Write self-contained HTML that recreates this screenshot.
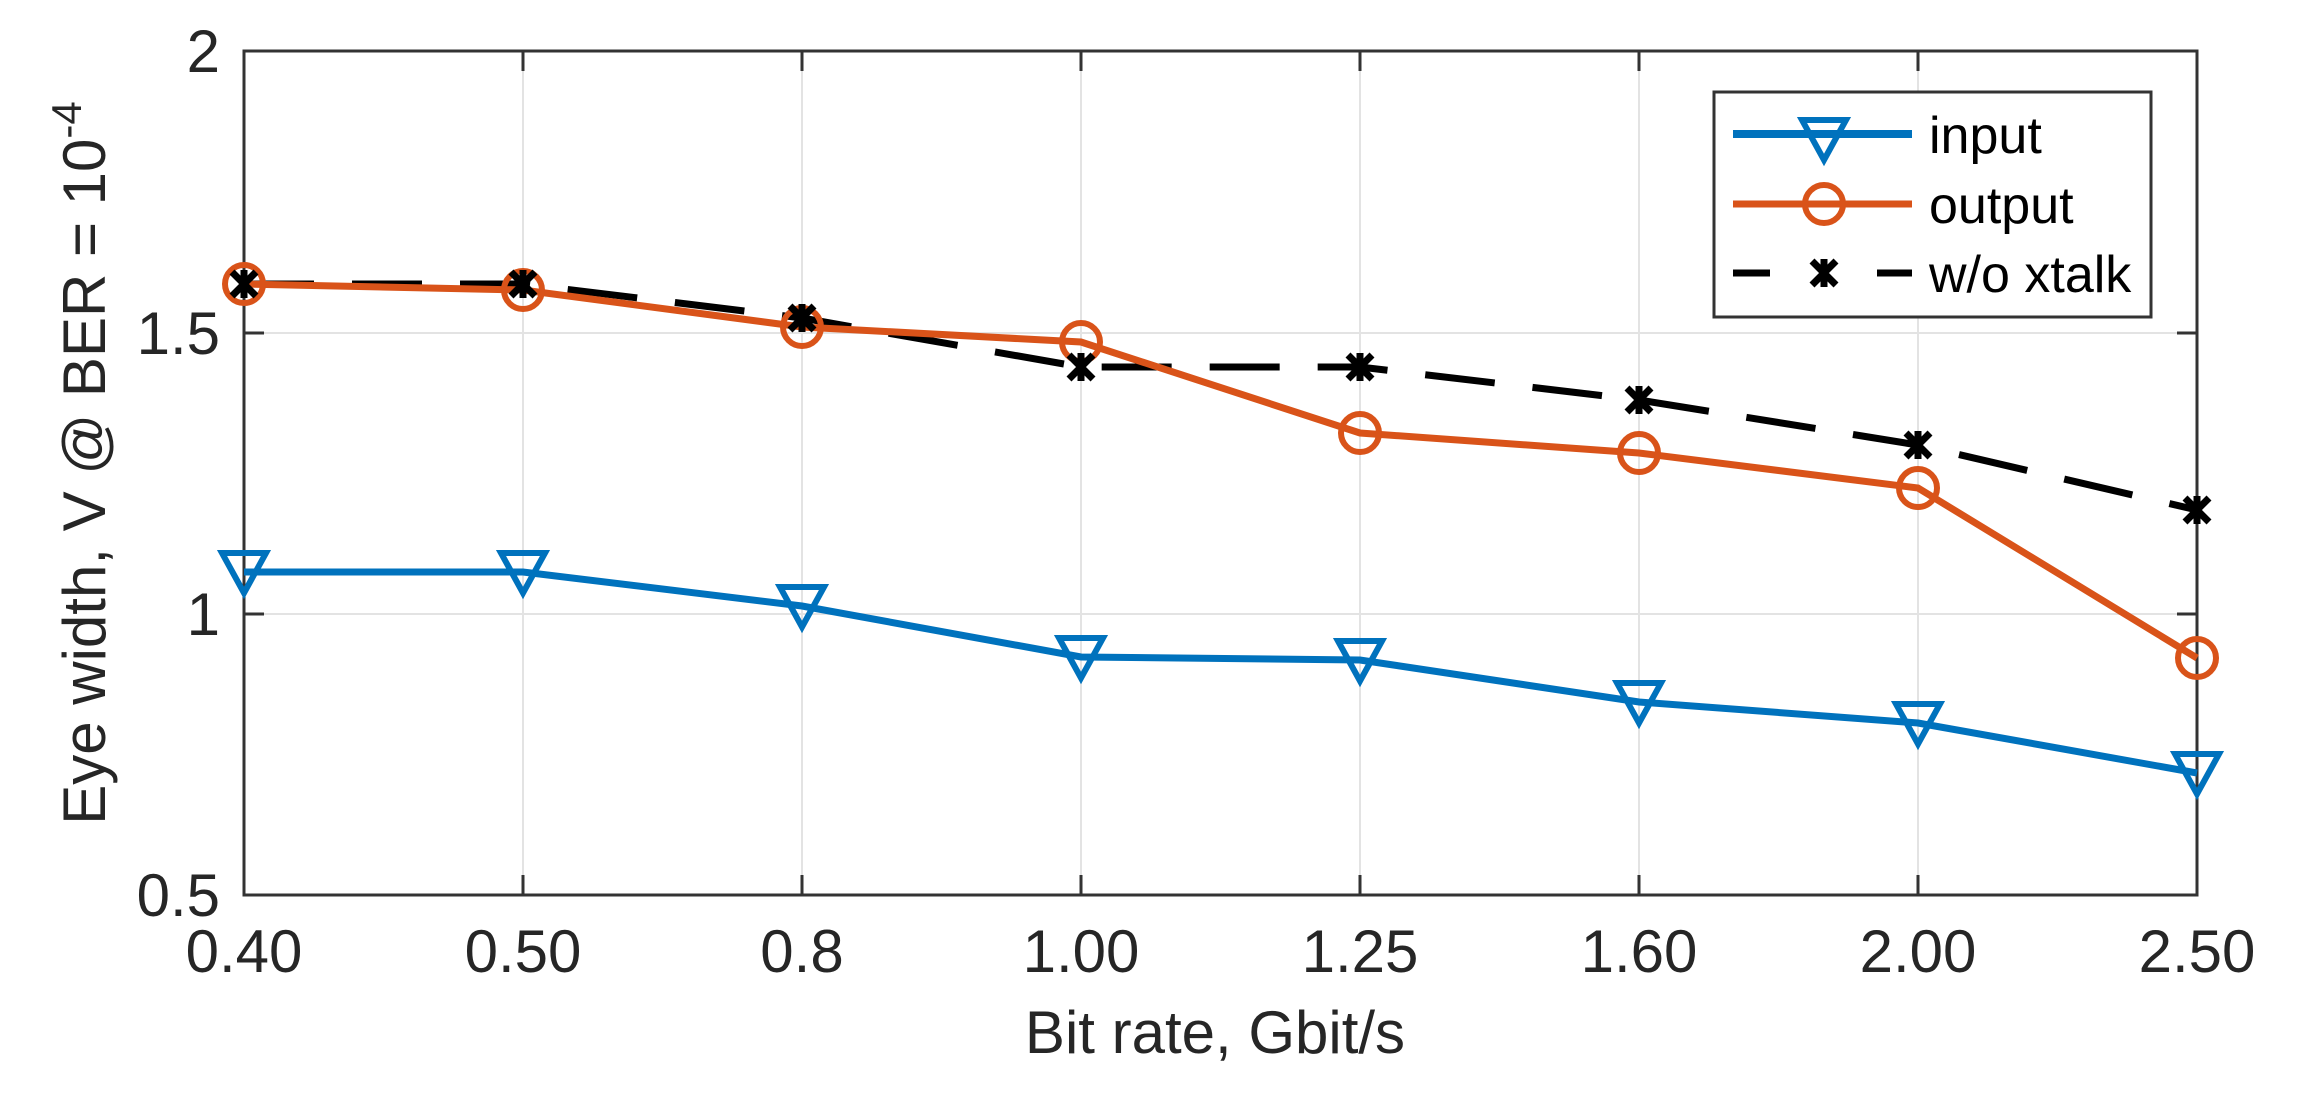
<!DOCTYPE html>
<html><head><meta charset="utf-8"><style>
html,body{margin:0;padding:0;background:#fff;}
svg{display:block;font-family:"Liberation Sans",Arial,sans-serif;}
</style></head><body>
<svg width="2310" height="1100" viewBox="0 0 2310 1100" xmlns="http://www.w3.org/2000/svg">
<rect width="2310" height="1100" fill="#fff"/>
<g stroke="#e3e3e3" stroke-width="2">
<line x1="523" y1="51" x2="523" y2="895"/><line x1="802" y1="51" x2="802" y2="895"/>
<line x1="1081" y1="51" x2="1081" y2="895"/><line x1="1360" y1="51" x2="1360" y2="895"/>
<line x1="1639" y1="51" x2="1639" y2="895"/><line x1="1918" y1="51" x2="1918" y2="895"/>
<line x1="244" y1="333" x2="2197" y2="333"/><line x1="244" y1="614" x2="2197" y2="614"/>
</g>
<g stroke="#333" stroke-width="3">
<line x1="523" y1="895" x2="523" y2="875"/><line x1="802" y1="895" x2="802" y2="875"/><line x1="1081" y1="895" x2="1081" y2="875"/><line x1="1360" y1="895" x2="1360" y2="875"/><line x1="1639" y1="895" x2="1639" y2="875"/><line x1="1918" y1="895" x2="1918" y2="875"/>
<line x1="523" y1="51" x2="523" y2="71"/><line x1="802" y1="51" x2="802" y2="71"/><line x1="1081" y1="51" x2="1081" y2="71"/><line x1="1360" y1="51" x2="1360" y2="71"/><line x1="1639" y1="51" x2="1639" y2="71"/><line x1="1918" y1="51" x2="1918" y2="71"/>
<line x1="244" y1="333" x2="264" y2="333"/><line x1="244" y1="614" x2="264" y2="614"/>
<line x1="2197" y1="333" x2="2177" y2="333"/><line x1="2197" y1="614" x2="2177" y2="614"/>
</g>
<rect x="244" y="51" width="1953" height="844" fill="none" stroke="#333" stroke-width="3"/>
<g font-size="60" fill="#262626" text-anchor="middle">
<text x="244" y="972">0.40</text><text x="523" y="972">0.50</text><text x="802" y="972">0.8</text><text x="1081" y="972">1.00</text><text x="1360" y="972">1.25</text><text x="1639" y="972">1.60</text><text x="1918" y="972">2.00</text><text x="2197" y="972">2.50</text>
</g>
<g font-size="60" fill="#262626" text-anchor="end">
<text x="220" y="72">2</text><text x="220" y="354">1.5</text><text x="220" y="635">1</text><text x="220" y="916">0.5</text>
</g>
<text x="1215" y="1053" font-size="60" fill="#262626" text-anchor="middle">Bit rate, Gbit/s</text>
<text transform="translate(105,463) rotate(-90)" font-size="60" fill="#262626" text-anchor="middle">Eye width, V @ BER = 10<tspan dy="-24" font-size="42">-4</tspan></text>
<polyline fill="none" stroke="#000" stroke-width="7" stroke-dasharray="70,38" points="244,284 523,284 802,318 1081,367 1360,367 1639,400 1918,445 2197,510"/>
<polyline fill="none" stroke="#D95319" stroke-width="7" points="244,284 523,290 802,327 1081,342 1360,433 1639,453 1918,488 2197,658"/>
<polyline fill="none" stroke="#0072BD" stroke-width="7" points="244,572 523,572 802,606 1081,657 1360,660 1639,702 1918,723 2197,773"/>
<g fill="none" stroke="#D95319" stroke-width="6">
<circle cx="244" cy="284" r="19"/><circle cx="523" cy="290" r="19"/><circle cx="802" cy="327" r="19"/><circle cx="1081" cy="342" r="19"/><circle cx="1360" cy="433" r="19"/><circle cx="1639" cy="453" r="19"/><circle cx="1918" cy="488" r="19"/><circle cx="2197" cy="658" r="19"/>
</g>
<g fill="none" stroke="#0072BD" stroke-width="6">
<path d="M222,553 L266,553 L244,593 Z"/>
<path d="M501,553 L545,553 L523,593 Z"/>
<path d="M780,587 L824,587 L802,627 Z"/>
<path d="M1059,638 L1103,638 L1081,678 Z"/>
<path d="M1338,641 L1382,641 L1360,681 Z"/>
<path d="M1617,683 L1661,683 L1639,723 Z"/>
<path d="M1896,704 L1940,704 L1918,744 Z"/>
<path d="M2175,754 L2219,754 L2197,794 Z"/>
</g>
<g stroke="#000" stroke-width="7">
<path d="M232,272 l24,24 M256,272 l-24,24 M244,270 v28"/>
<path d="M511,272 l24,24 M535,272 l-24,24 M523,270 v28"/>
<path d="M790,306 l24,24 M814,306 l-24,24 M802,304 v28"/>
<path d="M1069,355 l24,24 M1093,355 l-24,24 M1081,353 v28"/>
<path d="M1348,355 l24,24 M1372,355 l-24,24 M1360,353 v28"/>
<path d="M1627,388 l24,24 M1651,388 l-24,24 M1639,386 v28"/>
<path d="M1906,433 l24,24 M1930,433 l-24,24 M1918,431 v28"/>
<path d="M2185,498 l24,24 M2209,498 l-24,24 M2197,496 v28"/>
</g>
<rect x="1714" y="92" width="437" height="225" fill="#fff" stroke="#333" stroke-width="3"/>
<line x1="1733" y1="134" x2="1912" y2="134" stroke="#0072BD" stroke-width="8"/>
<path d="M1802,120 L1846,120 L1824,160 Z" fill="none" stroke="#0072BD" stroke-width="6"/>
<line x1="1733" y1="204" x2="1912" y2="204" stroke="#D95319" stroke-width="7"/>
<circle cx="1824" cy="204" r="19" fill="none" stroke="#D95319" stroke-width="6"/>
<line x1="1733" y1="273" x2="1770" y2="273" stroke="#000" stroke-width="7"/>
<line x1="1877" y1="273" x2="1912" y2="273" stroke="#000" stroke-width="7"/>
<path d="M1812,261 l24,24 M1836,261 l-24,24 M1824,259 v28" stroke="#000" stroke-width="7"/>
<g font-size="52" fill="#000">
<text x="1929" y="153">input</text><text x="1929" y="223">output</text><text x="1929" y="292">w/o xtalk</text>
</g>
</svg>
</body></html>
